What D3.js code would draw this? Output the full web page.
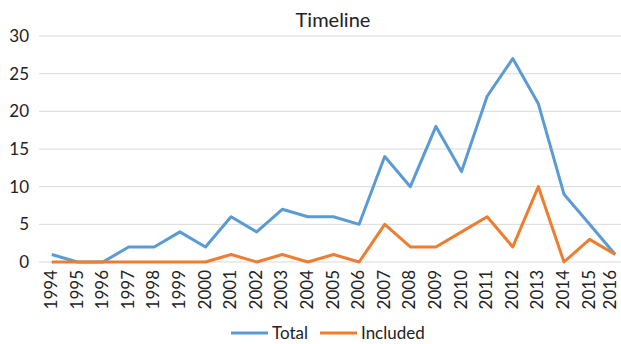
<!DOCTYPE html>
<html>
<head>
<meta charset="utf-8">
<script src="https://cdn.jsdelivr.net/npm/d3@7"></script>
<style>
  body { margin: 0; background: #fff; }
  svg { display: block; font-family: Lato, "Open Sans", sans-serif; }
</style>
</head>
<body>
<div id="chart"></div>
<script>
// Timeline chart: Total vs Included per year

const years = ['1994', '1995', '1996', '1997', '1998', '1999', '2000', '2001', '2002', '2003', '2004',
    '2005', '2006', '2007', '2008', '2009', '2010', '2011', '2012', '2013', '2014', '2015', '2016'];
const totalValues = [1, 0, 0, 2, 2, 4, 2, 6, 4, 7, 6, 6, 5, 14, 10, 18, 12, 22, 27, 21, 9, 5, 1];
const includedValues = [0, 0, 0, 0, 0, 0, 0, 1, 0, 1, 0, 1, 0, 5, 2, 2, 4, 6, 2, 10, 0, 3, 1];
const yTicks = [0, 5, 10, 15, 20, 25, 30];

const seriesList = [
    { name: 'Total', values: totalValues, color: '#5B9BD5' },
    { name: 'Included', values: includedValues, color: '#ED7D31' }
];

const width = 621;
const height = 344;
const margin = { top: 36, right: -7, bottom: 82, left: 39 };
const innerW = width - margin.left - margin.right;
const innerH = height - margin.top - margin.bottom;

const svg = d3.select('#chart').append('svg')
    .attr('width', width)
    .attr('height', height);

// Title
svg.append('text')
    .attr('x', 333)
    .attr('y', 27)
    .attr('text-anchor', 'middle')
    .style('font-size', '20px')
    .style('fill', '#222')
    .text('Timeline');

const g = svg.append('g')
    .attr('transform', `translate(${margin.left},${margin.top})`);

// Scales
const xScale = d3.scaleBand()
    .domain(years)
    .range([0, innerW]);

const yScale = d3.scaleLinear()
    .domain([0, 30])
    .range([innerH, 0]);

// Gridlines
g.append('g')
    .selectAll('line')
    .data(yTicks)
    .join('line')
    .attr('x1', 0)
    .attr('x2', innerW)
    .attr('y1', d => yScale(d))
    .attr('y2', d => yScale(d))
    .attr('stroke', '#D9D9D9')
    .attr('stroke-width', 1);

// Y axis
const yAxis = d3.axisLeft(yScale)
    .tickValues(yTicks)
    .tickSize(0)
    .tickPadding(10);

g.append('g')
    .attr('class', 'y-axis')
    .call(yAxis)
    .call(sel => sel.select('.domain').remove())
    .call(sel => sel.selectAll('text')
        .style('font-size', '17px')
        .style('font-family', 'Lato, "Open Sans", sans-serif')
        .style('fill', '#222'));

// X axis
const xAxis = d3.axisBottom(xScale).tickSize(0);

g.append('g')
    .attr('class', 'x-axis')
    .attr('transform', `translate(0,${innerH})`)
    .call(xAxis)
    .call(sel => sel.select('.domain').remove())
    .call(sel => sel.selectAll('text')
        .attr('transform', (d, i) => i === years.length - 1 ? 'translate(-4,0) rotate(-90)' : 'rotate(-90)')
        .attr('x', -8)
        .attr('y', 0)
        .attr('dy', '0.3em')
        .attr('text-anchor', 'end')
        .style('font-size', '17px')
        .style('font-family', 'Lato, "Open Sans", sans-serif')
        .style('fill', '#222'));

// Lines
const line = d3.line()
    .x((d, i) => xScale(years[i]) + xScale.bandwidth() / 2)
    .y(d => yScale(d));

seriesList.forEach(s => {
    g.append('path')
        .datum(s.values)
        .attr('fill', 'none')
        .attr('stroke', s.color)
        .attr('stroke-width', 3)
        .attr('stroke-linejoin', 'round')
        .attr('d', line);
});

// Legend
const legendX = [231, 320];
const legend = svg.append('g')
    .attr('transform', 'translate(0,333)');

seriesList.forEach((s, i) => {
    const item = legend.append('g')
        .attr('transform', `translate(${legendX[i]},0)`);
    item.append('line')
        .attr('x1', 0)
        .attr('x2', 37)
        .attr('y1', 0)
        .attr('y2', 0)
        .attr('stroke', s.color)
        .attr('stroke-width', 3);
    item.append('text')
        .attr('x', 41)
        .attr('y', 0)
        .attr('dy', '0.35em')
        .style('font-size', '17px')
        .style('fill', '#222')
        .text(s.name);
});
</script>
</body>
</html>
